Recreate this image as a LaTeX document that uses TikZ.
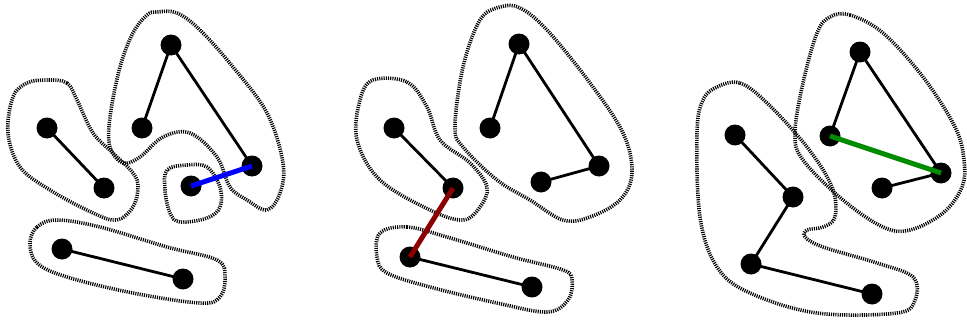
\documentclass[tikz,border=0pt]{standalone}
\begin{document}
\begin{tikzpicture}[x=1pt,y=-1pt,
  vtx/.style={circle,fill=black,minimum size=21pt,inner sep=0pt},
  edg/.style={line width=2.8pt,black},
  hl/.style={line width=5pt},
  blob/.style={line width=3.6pt,dash pattern=on 1.1pt off 1.1pt}]
\useasboundingbox (0,0) rectangle (967,324);
\definecolor{hlred}{RGB}{139,0,0}
\definecolor{hlgreen}{RGB}{0,140,0}
% ---------- panel 1 ----------
\draw[blob] plot[smooth cycle,tension=0.6] coordinates {(157,12) (177,13) (200,30) (233,67) (267,113) (283,163) (280,193) (267,210) (247,200) (230,187) (217,157) (190,133) (163,137) (140,157) (123,163) (110,147) (110,117) (120,67) (133,33) (147,15)};
\draw[blob] plot[smooth cycle,tension=0.6] coordinates {(47,80) (67,83) (77,100) (93,133) (113,153) (133,173) (138,187) (133,207) (117,220) (93,213) (50,190) (20,167) (8,133) (13,97) (27,83)};
\draw[blob] plot[smooth cycle,tension=0.6] coordinates {(167,170) (187,165) (207,167) (220,187) (220,207) (207,218) (180,222) (170,213) (165,190)};
\draw[blob] plot[smooth cycle,tension=0.6] coordinates {(30,243) (37,227) (57,220) (100,227) (167,247) (217,260) (225,277) (220,297) (200,303) (133,293) (67,277) (37,263)};
\coordinate (p1A) at (171,45); \coordinate (p1B) at (142,128); \coordinate (p1C) at (252,166);
\coordinate (p1D) at (47,128); \coordinate (p1E) at (104,188); \coordinate (p1F) at (191,186);
\coordinate (p1G) at (62,249); \coordinate (p1H) at (183,279);
\draw[edg] (p1A) -- (p1B) (p1A) -- (p1C) (p1D) -- (p1E) (p1G) -- (p1H);
\foreach \n in {A,B,C,D,E,F,G,H} \node[vtx] (n1\n) at (p1\n) {};
\draw[hl,blue] (n1F.center) -- (n1C.center);
% ---------- panel 2 ----------
\draw[blob] plot[smooth cycle,tension=0.6] coordinates {(500,7) (520,8) (547,30) (590,83) (623,133) (632,173) (620,200) (590,217) (563,220) (530,200) (497,180) (463,147) (455,127) (463,67) (480,20)};
\draw[blob] plot[smooth cycle,tension=0.6] coordinates {(373,80) (407,82) (427,107) (440,140) (470,163) (487,187) (480,207) (463,220) (430,210) (380,180) (357,140) (360,100)};
\draw[blob] plot[smooth cycle,tension=0.6] coordinates {(380,233) (407,227) (447,237) (513,257) (563,270) (572,280) (568,300) (547,312) (497,303) (430,287) (387,273) (377,257)};
\coordinate (p2A) at (519,44); \coordinate (p2B) at (490,128); \coordinate (p2C) at (599,166);
\coordinate (p2D) at (394,128); \coordinate (p2E) at (453,188); \coordinate (p2F) at (541,182);
\coordinate (p2G) at (410,257); \coordinate (p2H) at (532,287);
\draw[edg] (p2A) -- (p2B) (p2A) -- (p2C) (p2C) -- (p2F) (p2D) -- (p2E) (p2G) -- (p2H);
\foreach \n in {A,B,C,D,E,F,G,H} \node[vtx] (n2\n) at (p2\n) {};
\draw[hl,hlred] (n2E.center) -- (n2G.center);
% ---------- panel 3 ----------
\draw[blob] plot[smooth cycle,tension=0.6] coordinates {(830,17) (850,15) (883,33) (923,77) (955,127) (964,160) (962,187) (943,213) (910,230) (883,227) (843,200) (803,160) (795,133) (803,83) (817,33)};
\draw[blob] plot[smooth cycle,tension=0.6] coordinates {(717,87) (740,83) (767,103) (807,147) (832,187) (835,217) (823,227) (807,230) (805,237) (823,247) (877,263) (913,277) (915,300) (897,313) (817,313) (750,293) (717,267) (700,217) (697,133) (703,100)};
\coordinate (p3A) at (860,52); \coordinate (p3B) at (830,136); \coordinate (p3C) at (941,173);
\coordinate (p3D) at (735,135); \coordinate (p3E) at (793,197); \coordinate (p3F) at (882,188);
\coordinate (p3G) at (751,264); \coordinate (p3H) at (872,294);
\draw[edg] (p3A) -- (p3B) (p3A) -- (p3C) (p3C) -- (p3F) (p3D) -- (p3E) (p3E) -- (p3G) (p3G) -- (p3H);
\foreach \n in {A,B,C,D,E,F,G,H} \node[vtx] (n3\n) at (p3\n) {};
\draw[hl,hlgreen] (n3B.center) -- (n3C.center);
\end{tikzpicture}
\end{document}
